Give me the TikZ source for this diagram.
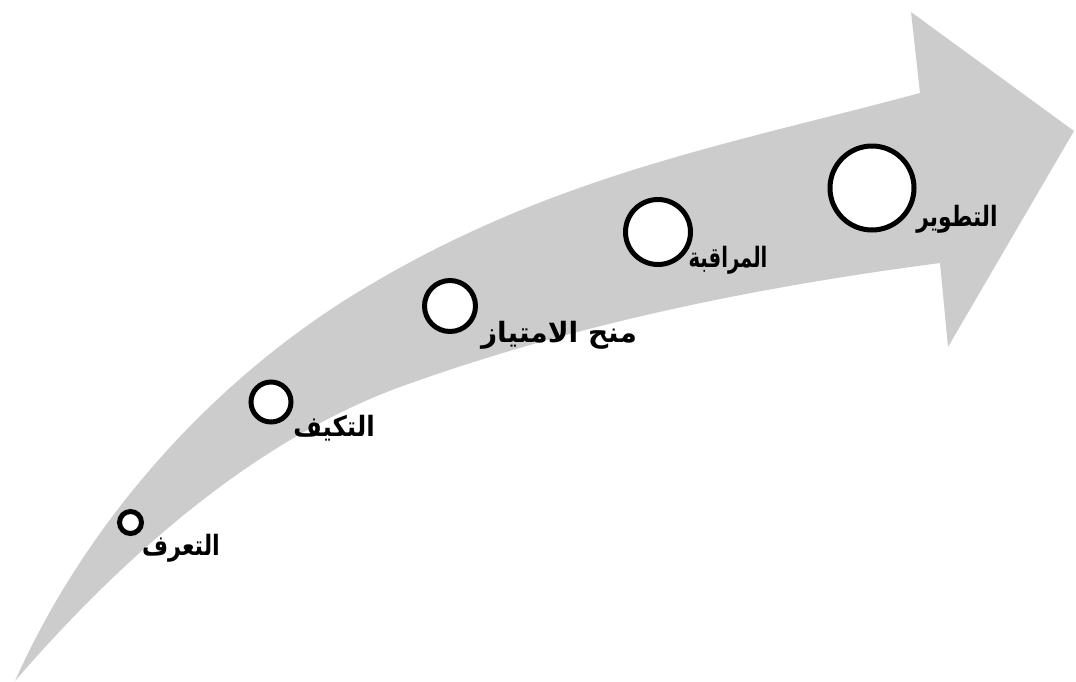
\documentclass[tikz,border=0pt]{standalone}
\usepackage{fontspec}
\newfontfamily\arabicfont[Script=Arabic]{DejaVu Sans}
\TeXXeTstate=1
\definecolor{arrowgray}{RGB}{204,204,204}
\begin{document}
\begin{tikzpicture}[x=1pt,y=-1pt,
  ring/.style={circle,draw=black,line width=5pt,fill=white,inner sep=0pt},
  lbl/.style={inner sep=0pt,font=\arabicfont\bfseries\fontsize{28}{32}\selectfont}]
\clip (0,0) rectangle (1076,681);
\fill[arrowgray] (15,681) .. controls (84,526) and (206,387) .. (350,297)
  .. controls (545,176) and (727,145) .. (920,93)
  -- (911,12) -- (1074,131) -- (948,347) -- (940,263)
  .. controls (757,287) and (574,324) .. (400,387)
  .. controls (250,442) and (117,563) .. (15,681) -- cycle;
\node[ring,minimum size=22pt] (c1) at (130.5,522.5) {};
\node[ring,minimum size=40pt] (c2) at (271,402) {};
\node[ring,minimum size=51pt] (c3) at (450,306) {};
\node[ring,minimum size=65pt] (c4) at (658,232) {};
\node[ring,minimum size=84pt] (c5) at (872,188) {};
\node[lbl] (t1) at (181,548) {\scalebox{0.8}[1]{\beginR التعرف\endR}};
\node[lbl] (t2) at (334,428) {\scalebox{0.88}[1]{\beginR التكيف\endR}};
\node[lbl] (t3) at (559,335) {\beginR منح الامتياز\endR};
\node[lbl] (t4) at (728,260) {\scalebox{0.7}[1]{\beginR المراقبة\endR}};
\node[lbl] (t5) at (957,219) {\scalebox{0.78}[1]{\beginR التطوير\endR}};
\end{tikzpicture}
\end{document}
